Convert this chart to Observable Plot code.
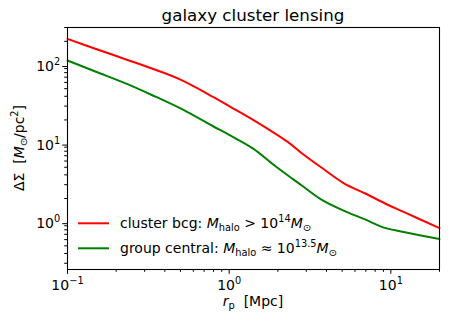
<!DOCTYPE html>
<html>
<head>
<meta charset="utf-8">
<script src="https://cdn.jsdelivr.net/npm/d3@7"></script>
<script src="https://cdn.jsdelivr.net/npm/@observablehq/plot@0.6"></script>
<style>
  html, body { margin: 0; padding: 0; background: white; }
  svg text { white-space: pre; }
</style>
</head>
<body>
<div id="chart"></div>
<script>
// ---- data ----
const rpRed   = [0.1, 0.15, 0.235, 0.35, 0.5, 0.8, 1.0, 1.5, 2.3, 2.8, 3.7, 5.1, 7, 9.5, 12, 20];
const dsRed   = [215, 160, 116, 87, 65, 39, 30, 18.5, 10.5, 7.6, 5.0, 3.15, 2.3, 1.68, 1.35, 0.84];
const rpGreen = [0.1, 0.15, 0.235, 0.35, 0.5, 0.8, 1.0, 1.4, 1.9, 2.3, 2.8, 3.7, 5.1, 6.8, 9.3, 12, 20];
const dsGreen = [114, 82, 57, 39.5, 28, 16.5, 12.9, 8.7, 5.3, 3.95, 2.95, 1.95, 1.4, 1.1, 0.84, 0.75, 0.61];

const xMajor = [0.1, 1, 10];
const xMinor = [0.2,0.3,0.4,0.5,0.6,0.7,0.8,0.9, 2,3,4,5,6,7,8,9, 20];
const yMajor = [1, 10, 100];
const yMinor = [0.3,0.4,0.5,0.6,0.7,0.8,0.9, 2,3,4,5,6,7,8,9, 20,30,40,50,60,70,80,90, 200,300];

const titleText = "galaxy cluster lensing";
const seriesNames = ["cluster bcg", "group central"];
const colors = ["#ff0000", "#008000"];

const redData = rpRed.map((x, i) => ({x, y: dsRed[i]}));
const greenData = rpGreen.map((x, i) => ({x, y: dsGreen[i]}));

const W = 452, H = 324;
const mL = 67, mR = 13, mT = 27, mB = 55;
const expFmt = d => "10^" + Math.round(Math.log10(d));

const chart = Plot.plot({
  width: W, height: H,
  marginLeft: mL, marginRight: mR, marginTop: mT, marginBottom: mB,
  style: {fontFamily: "DejaVu Sans", fontSize: "14px", background: "white", color: "black"},
  x: {type: "log", domain: [0.1, 20]},
  y: {type: "log", domain: [0.25, 300]},
  marks: [
    Plot.line(redData, {x: "x", y: "y", stroke: colors[0], strokeWidth: 2, curve: "catmull-rom"}),
    Plot.line(greenData, {x: "x", y: "y", stroke: colors[1], strokeWidth: 2, curve: "catmull-rom"}),
    Plot.axisX({ticks: xMinor, tickSize: 2.8, tickFormat: () => "", label: null}),
    Plot.axisX({ticks: xMajor, tickSize: 4.8, tickPadding: 5.5, tickFormat: expFmt, label: null, fontSize: 14}),
    Plot.axisY({ticks: yMinor, tickSize: 2.8, tickFormat: () => "", label: null}),
    Plot.axisY({ticks: yMajor, tickSize: 4.8, tickPadding: 2.5, dy: 1.5, tickFormat: expFmt, label: null, fontSize: 14}),
    Plot.frame({stroke: "black", strokeWidth: 1.1})
  ]
});
document.getElementById("chart").appendChild(chart);

const svg = d3.select(chart);

// turn "10^e" tick labels into 10 with superscript
svg.selectAll("text").each(function() {
  const s = this.textContent;
  const m = /^10\^(-?\d+)$/.exec(s);
  if (!m) return;
  const t = d3.select(this);
  t.text(null);
  t.append("tspan").text("10");
  t.append("tspan").attr("font-size", "9.8px").attr("dy", "-6px").text(m[1].replace("-", "\u2212"));
});

const ff = "DejaVu Sans";
function rich(g, parts) {
  let shift = 0;
  for (const [txt, kind] of parts) {
    const ts = g.append("tspan").text(txt);
    let target = 0;
    if (kind === "sub") { target = 3; ts.attr("font-size", "9.8px"); }
    else if (kind === "sup") { target = -6; ts.attr("font-size", "9.8px"); }
    else if (kind === "i") { ts.attr("font-style", "italic"); }
    if (target !== shift) { ts.attr("dy", (target - shift) + "px"); shift = target; }
  }
}

// title
svg.append("text")
  .attr("x", mL + (W - mL - mR) / 2).attr("y", 21)
  .attr("text-anchor", "middle").attr("font-family", ff).attr("font-size", "16.7px")
  .attr("fill", "black")
  .text(titleText);

// x label
const xl = svg.append("text")
  .attr("x", mL + (W - mL - mR) / 2).attr("y", 306)
  .attr("text-anchor", "middle").attr("font-family", ff).attr("font-size", "14px").attr("fill", "black");
rich(xl, [["r", "i"], ["p", "sub"], ["  [Mpc]", "n"]]);

// y label
const yl = svg.append("text")
  .attr("transform", `translate(24,${mT + (H - mT - mB) / 2}) rotate(-90)`)
  .attr("text-anchor", "middle").attr("font-family", ff).attr("font-size", "14px").attr("fill", "black");
rich(yl, [["\u0394\u03A3  [", "n"], ["M", "i"], ["\u2299", "sub"], ["/pc", "n"], ["2", "sup"], ["]", "n"]]);

// legend
const legendRows = [
  {y: 223.3, parts: [[seriesNames[0] + ": ", "n"], ["M", "i"], ["halo", "sub"], [" > 10", "n"], ["14", "sup"], ["M", "i"], ["\u2299", "sub"]]},
  {y: 248.3, parts: [[seriesNames[1] + ": ", "n"], ["M", "i"], ["halo", "sub"], [" \u2248 10", "n"], ["13.5", "sup"], ["M", "i"], ["\u2299", "sub"]]}
];
legendRows.forEach((row, i) => {
  svg.append("line").attr("x1", 78).attr("x2", 109).attr("y1", row.y).attr("y2", row.y)
    .attr("stroke", colors[i]).attr("stroke-width", 2);
  const t = svg.append("text").attr("x", 120).attr("y", row.y + 4.3)
    .attr("text-anchor", "start")
    .attr("font-family", ff).attr("font-size", "14px").attr("fill", "black");
  rich(t, row.parts);
});
</script>
</body>
</html>
